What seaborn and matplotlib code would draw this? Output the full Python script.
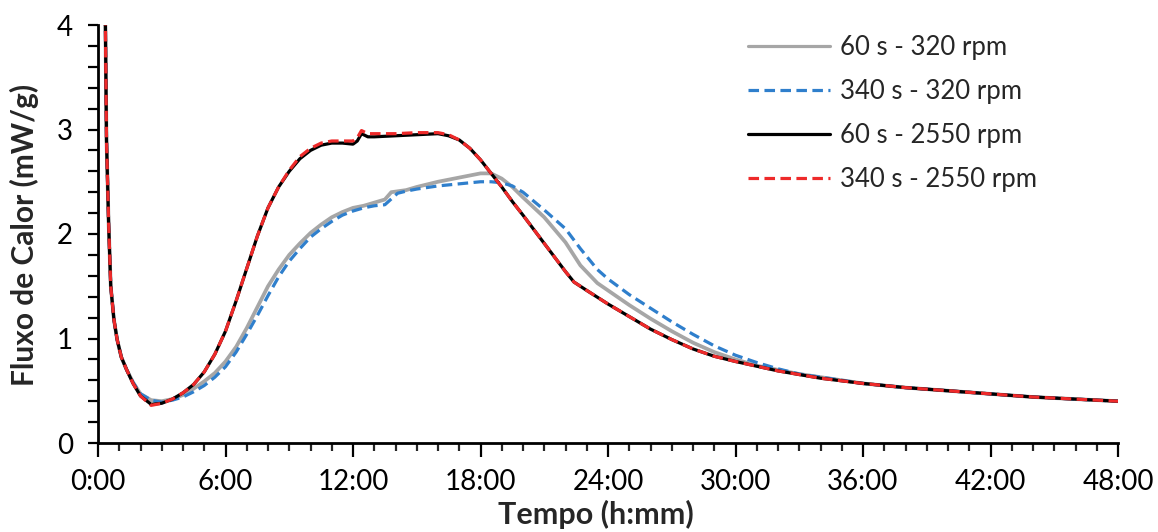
import matplotlib
matplotlib.use("Agg")
import matplotlib.pyplot as plt
import seaborn as sns
from matplotlib.ticker import MultipleLocator, FixedLocator, FixedFormatter

# ---------------- data ----------------
t_high = [0.32, 0.4, 0.5, 0.6, 0.75, 0.9, 1.1, 1.35, 1.65, 2.0,
          2.5, 3.0, 3.5, 4.0, 4.5, 5.0, 5.5, 6.0, 6.5, 7.0,
          7.5, 8.0, 8.5, 9.0, 9.5, 10.0, 10.5, 11.0, 11.5, 12.0,
          12.2, 12.4, 12.7, 13.0, 14.0, 15.0, 16.0, 16.5, 17.0, 17.5,
          18.0, 18.5, 19.0, 19.5, 20.0, 21.0, 22.0, 22.4, 23.0, 24.0,
          25.0, 26.0, 27.0, 28.0, 29.0, 30.0, 32.0, 34.0, 36.0, 38.0,
          40.0, 42.0, 44.0, 46.0, 48.0]

flux_60s_2550 = [4.6, 2.9, 2.1, 1.5, 1.18, 0.99, 0.82, 0.70, 0.57, 0.45,
                 0.37, 0.38, 0.42, 0.48, 0.56, 0.68, 0.85, 1.07, 1.36, 1.67,
                 1.98, 2.25, 2.45, 2.60, 2.72, 2.80, 2.85, 2.87, 2.87, 2.86,
                 2.89, 2.96, 2.93, 2.93, 2.94, 2.95, 2.96, 2.94, 2.90, 2.82,
                 2.71, 2.58, 2.45, 2.31, 2.18, 1.91, 1.64, 1.54, 1.46, 1.33,
                 1.21, 1.09, 0.99, 0.90, 0.83, 0.78, 0.69, 0.62, 0.57, 0.53,
                 0.50, 0.47, 0.44, 0.42, 0.40]

flux_340s_2550 = [4.6, 2.9, 2.1, 1.5, 1.18, 0.99, 0.82, 0.70, 0.57, 0.45,
                  0.36, 0.38, 0.42, 0.48, 0.56, 0.68, 0.85, 1.07, 1.36, 1.67,
                  1.98, 2.25, 2.45, 2.61, 2.74, 2.82, 2.87, 2.89, 2.89, 2.89,
                  2.92, 2.99, 2.96, 2.96, 2.96, 2.97, 2.97, 2.95, 2.90, 2.82,
                  2.71, 2.58, 2.45, 2.31, 2.18, 1.91, 1.64, 1.54, 1.46, 1.33,
                  1.21, 1.09, 0.99, 0.90, 0.83, 0.78, 0.69, 0.62, 0.57, 0.53,
                  0.50, 0.47, 0.44, 0.42, 0.40]

t_low = [0.32, 0.4, 0.5, 0.6, 0.75, 0.9, 1.1, 1.35, 1.65, 2.0,
         2.5, 3.0, 3.5, 4.0, 4.5, 5.0, 5.5, 6.0, 6.5, 7.0,
         7.5, 8.0, 8.5, 9.0, 9.5, 10.0, 10.5, 11.0, 11.5, 12.0,
         12.5, 13.0, 13.5, 13.8, 14.5, 15.0, 16.0, 17.0, 18.0, 18.5,
         19.0, 19.5, 20.0, 21.0, 22.0, 22.7, 23.5, 24.0, 25.0, 26.0,
         27.0, 28.0, 29.0, 30.0, 31.0, 32.0, 33.0, 34.0, 36.0, 38.0,
         40.0, 42.0, 44.0, 46.0, 48.0]

flux_60s_320 = [4.6, 2.9, 2.1, 1.5, 1.18, 0.99, 0.82, 0.70, 0.58, 0.47,
                0.41, 0.40, 0.42, 0.46, 0.52, 0.59, 0.67, 0.78, 0.92, 1.10,
                1.30, 1.50, 1.66, 1.80, 1.91, 2.01, 2.09, 2.16, 2.21, 2.25,
                2.27, 2.30, 2.33, 2.40, 2.42, 2.45, 2.50, 2.54, 2.58, 2.58,
                2.53, 2.45, 2.35, 2.16, 1.92, 1.70, 1.53, 1.46, 1.32, 1.19,
                1.07, 0.96, 0.87, 0.80, 0.74, 0.70, 0.66, 0.63, 0.57, 0.53,
                0.50, 0.47, 0.44, 0.42, 0.40]

t_blue = [0.32, 0.4, 0.5, 0.6, 0.75, 0.9, 1.1, 1.35, 1.65, 2.0,
          2.5, 3.0, 3.5, 4.0, 4.5, 5.0, 5.5, 6.0, 6.5, 7.0,
          7.5, 8.0, 8.5, 9.0, 9.5, 10.0, 10.5, 11.0, 11.5, 12.0,
          12.5, 13.0, 13.5, 14.1, 14.5, 15.0, 16.0, 17.0, 18.0, 18.5,
          19.0, 19.5, 20.0, 21.0, 22.0, 22.7, 23.5, 24.0, 25.0, 26.0,
          27.0, 28.0, 29.0, 30.0, 31.0, 32.0, 33.0, 34.0, 36.0, 38.0,
          40.0, 42.0, 44.0, 46.0, 48.0]

flux_340s_320 = [4.6, 2.9, 2.1, 1.5, 1.18, 0.99, 0.82, 0.70, 0.58, 0.47,
                 0.41, 0.39, 0.41, 0.44, 0.49, 0.55, 0.63, 0.73, 0.87, 1.04,
                 1.22, 1.41, 1.59, 1.74, 1.86, 1.97, 2.05, 2.12, 2.18, 2.22,
                 2.25, 2.27, 2.28, 2.39, 2.41, 2.43, 2.46, 2.48, 2.50, 2.50,
                 2.49, 2.46, 2.40, 2.23, 2.05, 1.86, 1.66, 1.57, 1.42, 1.29,
                 1.16, 1.04, 0.93, 0.84, 0.77, 0.71, 0.66, 0.63, 0.57, 0.53,
                 0.50, 0.47, 0.44, 0.42, 0.40]

series_labels = ["60 s - 320 rpm", "340 s - 320 rpm", "60 s - 2550 rpm", "340 s - 2550 rpm"]
x_ticks = [0, 6, 12, 18, 24, 30, 36, 42, 48]
x_tick_labels = ["0:00", "6:00", "12:00", "18:00", "24:00", "30:00", "36:00", "42:00", "48:00"]
y_ticks = [0, 1, 2, 3, 4]

# ---------------- style ----------------
sns.set_theme(style="ticks")
plt.rcParams["font.family"] = ["Lato", "DejaVu Sans"]

fig = plt.figure(figsize=(11.58, 5.32), dpi=100)
ax = fig.add_axes([98 / 1158, 1 - 443 / 532, 1020 / 1158, 418 / 532])

lw = 2.3
dash = (3.3, 1.7)
sns.lineplot(x=t_low, y=flux_60s_320, ax=ax, color="#a6a6a6", lw=lw + 0.4,
             label=series_labels[0])
sns.lineplot(x=t_blue, y=flux_340s_320, ax=ax, color="#2f7fcc", lw=lw,
             label=series_labels[1]).lines[-1].set_dashes(dash)
sns.lineplot(x=t_high, y=flux_60s_2550, ax=ax, color="black", lw=lw,
             label=series_labels[2])
sns.lineplot(x=t_high, y=flux_340s_2550, ax=ax, color="#ee2a2a", lw=lw,
             label=series_labels[3]).lines[-1].set_dashes(dash)

ax.set_xlim(0, 48)
ax.set_ylim(0, 4)
ax.xaxis.set_major_locator(FixedLocator(x_ticks))
ax.xaxis.set_major_formatter(FixedFormatter(x_tick_labels))
ax.xaxis.set_minor_locator(MultipleLocator(1))
ax.yaxis.set_major_locator(FixedLocator(y_ticks))
ax.yaxis.set_minor_locator(MultipleLocator(0.2))

for s in ["top", "right"]:
    ax.spines[s].set_visible(False)
for s in ["left", "bottom"]:
    ax.spines[s].set_linewidth(2.0)
    ax.spines[s].set_color("black")

ax.tick_params(axis="x", which="major", direction="out", length=10, width=1.6,
               labelsize=20, pad=9, colors="black")
ax.tick_params(axis="x", which="minor", direction="out", length=6, width=1.6)
ax.tick_params(axis="y", which="both", direction="out", length=7, width=1.6,
               labelsize=20, pad=11, colors="black")

ax.set_xlabel("Tempo (h:mm)", fontsize=22, fontweight="bold")
ax.set_ylabel("Fluxo de Calor (mW/g)", fontsize=21.5, fontweight="bold")
ax.xaxis.set_label_coords(0.488, -0.135)
ax.yaxis.set_label_coords(-0.058, 0.498)

leg = ax.legend(loc="upper left", bbox_to_anchor=(0.637, 0.977), frameon=False,
                fontsize=18.5, handlelength=3.2, handletextpad=0.4,
                labelspacing=0.74, borderaxespad=0, borderpad=0)
for line in leg.get_lines():
    line.set_linewidth(lw)

fig.savefig("out.png", dpi=100)
